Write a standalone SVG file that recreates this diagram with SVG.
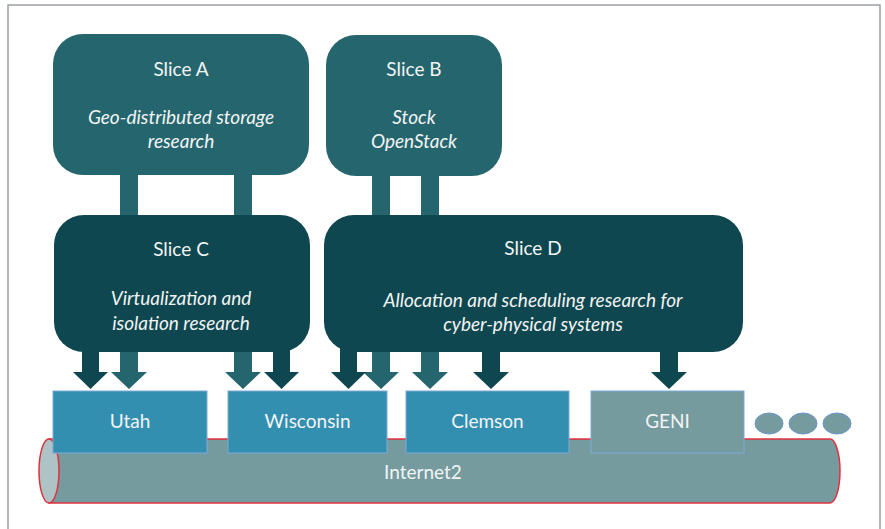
<svg xmlns="http://www.w3.org/2000/svg" width="885" height="529" viewBox="0 0 885 529">
<style>
.t{font-family:Lato,"Open Sans","Liberation Sans",sans-serif;fill:#f2f4f4;text-anchor:middle}
.title{font-size:19px}
.it{font-size:19px;font-style:italic}
.site{font-size:19px}
.sliceAB{fill:#25666e}
.sliceCD{fill:#0e474f}
.cmid{fill:#25666e}
.cdark{fill:#0e474f}
.sitebox{fill:#338fb0;stroke:#7ea9d8;stroke-width:1}
.geni{fill:#759b9f;stroke:#7ea9d8;stroke-width:1}
.dot{fill:#759b9f;stroke:#6a98d0;stroke-width:1}
</style>
<rect x="0" y="0" width="885" height="529" fill="#ffffff"/>
<rect x="8" y="5" width="872" height="540" fill="#ffffff" stroke="#9aa0a6" stroke-width="1.5"/>

<g id="internet2">
<path d="M49,439 H830 A10,32 0 0 1 830,503 H49 Z" fill="#759b9f" stroke="#e0303e" stroke-width="1.5"/>
<ellipse cx="49" cy="471" rx="10" ry="32" fill="#adc3c5" stroke="#e0303e" stroke-width="1.5"/>
<text class="t site" x="423" y="479">Internet2</text>
</g>

<g id="connectors">
<path class="cmid" d="M120,170 V372 H111 L129,389 L147,372 H138 V170 Z"/>
<path class="cmid" d="M234,170 V372 H225 L243,389 L261,372 H252 V170 Z"/>
<path class="cmid" d="M372,170 V372 H363 L381,389 L399,372 H390 V170 Z"/>
<path class="cmid" d="M421,170 V372 H412 L430,389 L448,372 H439 V170 Z"/>
<path class="cdark" d="M82,345 V372 H73 L90.5,389 L108,372 H99 V345 Z"/>
<path class="cdark" d="M273,345 V372 H264 L281.5,389 L299,372 H290 V345 Z"/>
<path class="cdark" d="M340,345 V372 H331 L348.5,389 L366,372 H357 V345 Z"/>
<path class="cdark" d="M482,345 V372 H473 L491,389 L509,372 H500 V345 Z"/>
<path class="cdark" d="M660,345 V372 H651 L669,389 L687,372 H678 V345 Z"/>
</g>

<g id="sliceA">
<rect class="sliceAB" x="53" y="34" width="256" height="141" rx="30"/>
<text class="t title" x="181" y="76">Slice A</text>
<text class="t it" x="181" y="124">Geo-distributed storage</text>
<text class="t it" x="181" y="148">research</text>
</g>

<g id="sliceB">
<rect class="sliceAB" x="326" y="35" width="176" height="141" rx="30"/>
<text class="t title" x="414" y="76">Slice B</text>
<text class="t it" x="414" y="124">Stock</text>
<text class="t it" x="414" y="148">OpenStack</text>
</g>

<g id="sliceC">
<rect class="sliceCD" x="54" y="215" width="256" height="137" rx="30"/>
<text class="t title" x="181" y="256">Slice C</text>
<text class="t it" x="181" y="305">Virtualization and</text>
<text class="t it" x="181" y="330">isolation research</text>
</g>

<g id="sliceD">
<rect class="sliceCD" x="324" y="215" width="419" height="137" rx="30"/>
<text class="t title" x="533" y="255">Slice D</text>
<text class="t it" x="533" y="307">Allocation and scheduling research for</text>
<text class="t it" x="533" y="331">cyber-physical systems</text>
</g>

<g id="utah">
<rect class="sitebox" x="53" y="391" width="154" height="62"/>
<text class="t site" x="130" y="428">Utah</text>
</g>
<g id="wisconsin">
<rect class="sitebox" x="228" y="391" width="159" height="62"/>
<text class="t site" x="307.5" y="428">Wisconsin</text>
</g>
<g id="clemson">
<rect class="sitebox" x="406" y="391" width="163" height="62"/>
<text class="t site" x="487.5" y="428">Clemson</text>
</g>
<g id="geni">
<rect class="geni" x="591" y="391" width="153" height="62"/>
<text class="t site" x="667.5" y="428">GENI</text>
</g>
<g id="more">
<ellipse class="dot" cx="769" cy="423.5" rx="14" ry="10.5"/>
<ellipse class="dot" cx="803" cy="423.5" rx="14" ry="10.5"/>
<ellipse class="dot" cx="837" cy="423.5" rx="14" ry="10.5"/>
</g>
</svg>
